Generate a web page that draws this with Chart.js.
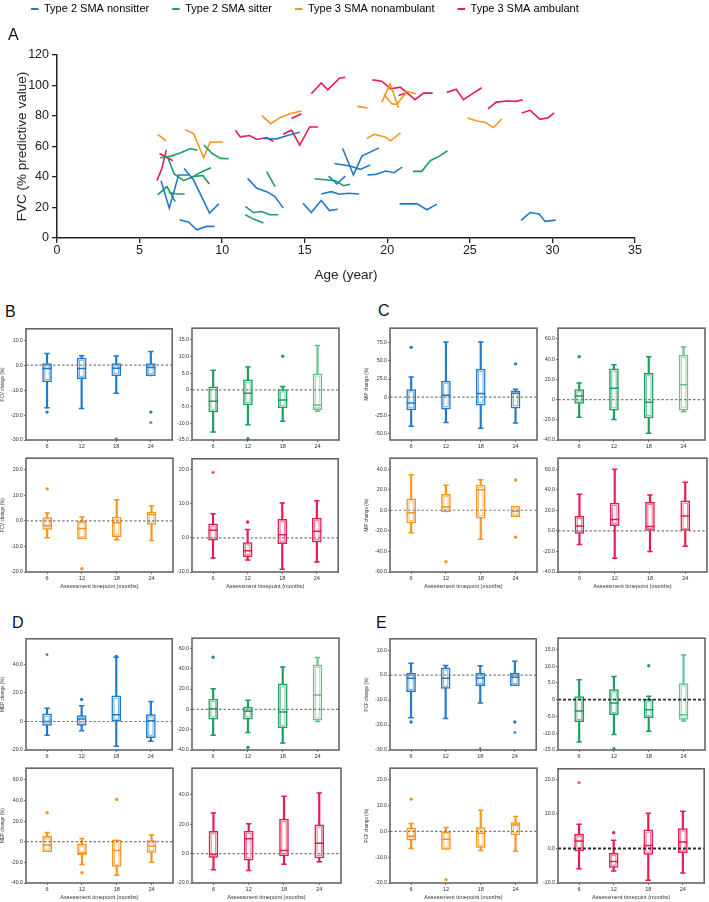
<!DOCTYPE html>
<html>
<head>
<meta charset="utf-8">
<title>SMA respiratory function over time</title>
<script src="https://cdn.jsdelivr.net/npm/chart.js@4.4.1/dist/chart.umd.min.js"></script>
<style>
  body { margin: 0; background: #fff; }
  #page { position: relative; width: 709px; height: 902px; overflow: hidden; font-family: "Liberation Sans", Arial, sans-serif; }
  #page canvas { position: absolute; }
  .tag { position: absolute; font-size: 16px; line-height: 1; color: #111; }
</style>
</head>
<body>
<div id="page">
  <canvas id="fvc-age" width="709" height="285" style="left:0;top:0"></canvas>
  <div class="tag" style="left:5px;top:304px">B</div>
  <div class="tag" style="left:378px;top:303px">C</div>
  <div class="tag" style="left:12px;top:615px">D</div>
  <div class="tag" style="left:376px;top:615px">E</div>
</div>
<script>
"use strict";

// Panel A: each patient is one track of [age (year), FVC (% predictive value)]
var nonsitterTracks = [
    [[6.3, 37.6], [6.8, 19.6], [7.36, 41.3], [7.97, 41.3]],
    [[7.7, 45.6], [8.27, 38], [9.24, 16.3], [9.8, 22.4]],
    [[7.42, 12], [7.97, 10.4], [8.47, 5.4], [9.04, 7.6], [9.54, 7.6]],
    [[11.54, 39.1], [12.1, 32.6], [12.7, 30.4], [13.2, 27.2], [13.7, 19.6]],
    [[12.5, 65.2], [13.3, 65], [14.0, 67.4], [14.7, 69.3]],
    [[14.9, 22.8], [15.4, 16.7], [16.0, 24.6], [16.5, 18], [17.0, 18.9]],
    [[16.0, 28.9], [16.6, 30.4], [17.1, 28.7], [17.65, 29.3], [18.3, 28.9]],
    [[16.45, 40.6], [16.95, 35.4], [17.45, 40.6]],
    [[16.8, 48.9], [17.75, 47.2], [18.36, 45], [18.96, 47.8]],
    [[17.3, 58.7], [17.95, 41.3], [18.46, 53.7], [19.5, 59.1]],
    [[18.8, 41.3], [19.3, 41.7], [19.9, 43.9], [20.4, 42.8], [20.9, 46.5]],
    [[20.74, 22.4], [21.8, 22.4], [22.4, 18.5], [23.0, 22.2]],
    [[28.1, 11.5], [28.65, 16.7], [29.2, 15.7], [29.55, 10.9], [30.2, 11.7]],
];

var sitterTracks = [
    [[6.25, 52.6], [6.9, 53.7], [7.5, 55.9], [8.07, 58.7], [8.5, 57.6]],
    [[8.9, 60.9], [9.4, 55.4], [9.9, 52.2], [10.4, 52]],
    [[6.7, 53], [7.1, 42], [7.67, 37.6], [8.23, 40.2], [8.83, 41], [9.22, 35.4]],
    [[6.1, 28.3], [6.66, 33.7], [7.16, 23.9]],
    [[6.76, 29.8], [7.26, 28.9], [7.73, 28.9]],
    [[8.23, 40.2], [8.78, 43.5], [9.32, 46.1]],
    [[11.4, 20.7], [11.9, 16.7], [12.4, 17.4], [12.9, 15.2], [13.4, 15.2]],
    [[11.4, 15.2], [11.9, 12.4], [12.5, 9.8]],
    [[12.7, 43.5], [13.2, 33.7]],
    [[15.6, 38.9], [16.85, 37.6], [17.35, 34.3], [17.75, 35.2]],
    [[21.55, 43.7], [22.09, 43.7], [22.6, 50.7], [23.16, 53.7], [23.64, 57.2]],
];

var nonambulantTracks = [
    [[6.1, 68], [6.6, 63.7]],
    [[7.77, 71], [8.27, 68.5], [8.88, 52.6], [9.27, 62.8], [10.05, 63]],
    [[12.4, 80.2], [12.95, 75], [13.5, 78.9], [14.1, 81.5], [14.8, 83.3]],
    [[18.2, 86.3], [18.8, 85.2]],
    [[18.76, 65.2], [19.2, 68], [19.87, 66.3], [20.2, 63.7], [20.8, 68.9]],
    [[19.67, 89.1], [20.17, 101.1], [20.68, 85.4]],
    [[19.8, 94.1], [20.27, 88], [20.58, 87.6], [21.18, 96.1], [21.74, 94.6]],
    [[24.85, 78.7], [25.42, 76.7], [25.92, 75.9], [26.43, 72.4], [26.93, 78]],
];

var ambulantTracks = [
    [[6.05, 37.6], [6.35, 45.6], [6.62, 57.6]],
    [[6.21, 55.4], [6.66, 52.8], [7.02, 50.7]],
    [[10.8, 70.7], [11.1, 66.3], [11.66, 67.2], [12.1, 64.6], [12.7, 65.9], [13.1, 63.3]],
    [[14.2, 78.3], [14.8, 81.5]],
    [[13.7, 68], [14.2, 70.7], [14.7, 60.9], [15.3, 72.8], [15.8, 72.8]],
    [[15.4, 94.6], [16.0, 101.7], [16.4, 97.2], [17.1, 104.8], [17.45, 105.4]],
    [[19.1, 103.7], [19.67, 102.8], [20.21, 97.8], [20.78, 98.9], [21.22, 95], [21.68, 90.7], [22.19, 95], [22.75, 95]],
    [[20.68, 93.5], [21.22, 95.4]],
    [[23.6, 95.4], [24.17, 97.6], [24.61, 90.7], [25.21, 95], [25.72, 98.5]],
    [[26.1, 84.6], [26.6, 89.1], [27.23, 89.8], [27.8, 89.6], [28.2, 90.7]],
    [[28.14, 82], [28.65, 83.7], [29.25, 77.8], [29.75, 78.9], [30.1, 82]],
];

var groupNames = ["Type 2 SMA nonsitter", "Type 2 SMA sitter", "Type 3 SMA nonambulant", "Type 3 SMA ambulant"];

// Panels B-E: change from baseline, one [min, q1, median, q3, max] per timepoint
var timepoints = [6, 12, 18, 24];

// outliers: [timepoint, value, "o" circle | "*" extreme]
var fvcNonsitter = [[-17.1, -6.7, -1.3, 0.7, 4.7], [-17.4, -5.4, -1.3, 2.9, 3.8], [-11.2, -4.3, -1.2, 0.7, 3.7], [-4.3, -4.3, -0.9, 0.7, 5.5]];
var fvcNonsitterOut = [[6, -18.8, "o"], [18, -29.5, "*"], [24, -18.8, "o"], [24, -23, "*"]];
var fvcSitter = [[-12.6, -6.6, -3.4, 0.9, 5.9], [-10.4, -4.5, -1.0, 3.0, 6.9], [-9.4, -5.4, -3.0, 0.1, 1.0], [-6.4, -5.9, -4.5, 4.8, 13.3]];
var fvcSitterOut = [[12, -14.6, "o"], [18, 10.1, "o"]];
var fvcNonambulant = [[-6.6, -3.4, -1.9, 1.3, 3.1], [-7.0, -7.0, -3.0, 0, 1.5], [-7.4, -6.2, -0.7, 1.5, 8.2], [-7.7, -1.4, 2.5, 3.4, 5.8]];
var fvcNonambulantOut = [[6, 12.5, "o"], [12, -18.7, "o"]];
var fvcAmbulant = [[-5.9, -0.7, 2.2, 4.1, 7.0], [-6.5, -5.5, -3.8, -1.4, 2.4], [-9.2, -1.7, 0.9, 5.4, 10.2], [-7.1, -1.2, 1.9, 5.8, 10.8]];
var fvcAmbulantOut = [[6, 19.1, "*"], [12, 4.6, "o"]];

var mipNonsitter = [[-40, -17.7, -8.2, 10.5, 27.7], [-35, -16.4, 2.7, 22.3, 75.9], [-42.7, -10.9, 5, 38.6, 75.9], [-35.5, -15, 5.5, 8.6, 10.9]];
var mipNonsitterOut = [[6, 68.6, "o"], [24, 45.9, "o"]];
var mipSitter = [[-17.5, -3.9, 3.6, 10, 16.5], [-19.7, -10.4, 11.3, 30.4, 34.6], [-33.3, -18.1, -2.6, 25.9, 42.4], [-12, -10.4, 14.6, 44, 52.1]];
var mipSitterOut = [[6, 42.4, "o"]];
var mipNonambulant = [[-21.8, -12.3, -2.5, 11.1, 34.5], [-1.6, -1.6, 3.2, 15.5, 24.4], [-28.2, -7.6, 19.9, 24.4, 29.7], [-6.3, -6.3, -1, 3.8, 3.8]];
var mipNonambulantOut = [[12, -50, "o"], [24, 29.4, "o"], [24, -26.3, "o"]];
var mipAmbulant = [[-13.3, -2.5, 4.8, 14.3, 35.6], [-26.7, 5.1, 11.1, 27, 60], [-20, 0, 4.4, 27.9, 34.9], [-14.9, 0, 14.6, 29.2, 47.3]];
var mipAmbulantOut = [];

var mepNonsitter = [[-9.7, -2.8, 0, 5.3, 9.2], [-6.5, -2.8, 1.8, 4.2, 11.1], [-17.3, 0, 4.8, 18, 45], [-13.9, -11.3, 0.5, 4.8, 14.1]];
var mepNonsitterOut = [[6, 46.9, "*"], [12, 15.5, "o"], [18, 45.7, "o"]];
var mepSitter = [[-25.5, -9.7, 0.6, 10, 20.3], [-22.9, -9.7, -1.9, 2.3, 9], [-33.2, -18.4, -2.6, 25.2, 41.6], [-11.9, -10.6, 14.2, 43.5, 51]];
var mepSitterOut = [[6, 51.3, "o"], [12, -37.4, "o"]];
var mepNonambulant = [[-9.6, -9.6, -3.2, 5.1, 8.9], [-22, -12.5, -10.9, -2.2, 3.2], [-32.6, -24, -8.6, 1.9, 1.9], [-19.8, -10.5, -4.2, 1, 6.7]];
var mepNonambulantOut = [[6, 28.1, "o"], [12, -30, "o"], [18, 40.9, "o"]];
var mepAmbulant = [[-11, -2.7, -0.4, 15.1, 27.6], [-11.5, -4.5, 10.1, 15.3, 20.2], [-7.2, -1.6, 2, 23.4, 38.9], [-5.6, -2.9, 7, 19.6, 41.1]];
var mepAmbulantOut = [];

// PCF boxes in the figure repeat the FVC values
var pcfNonsitter = fvcNonsitter, pcfNonsitterOut = fvcNonsitterOut;
var pcfSitter = fvcSitter, pcfSitterOut = fvcSitterOut;
var pcfNonambulant = fvcNonambulant, pcfNonambulantOut = fvcNonambulantOut;
var pcfAmbulant = fvcAmbulant, pcfAmbulantOut = fvcAmbulantOut;

var BLUE = "#2179c9";
var GREEN = "#1a9f5f";
var GREEN_LIGHT = "#62c291";
var ORANGE = "#f7951d";
var RED = "#e91a4f";
var groupColors = [BLUE, GREEN, ORANGE, RED];
var FONT = "'Liberation Sans', Arial, sans-serif";

Chart.defaults.font.family = FONT;

// ---------- panel A ----------
var trackSets = [];
[nonsitterTracks, sitterTracks, nonambulantTracks, ambulantTracks].forEach(function (tracks, g) {
    tracks.forEach(function (track) {
        trackSets.push({
            data: track.map(function (p) { return { x: p[0], y: p[1] }; }),
            borderColor: groupColors[g],
            borderWidth: 1.6,
            pointRadius: 0,
            fill: false,
            tension: 0,
        });
    });
});

new Chart(document.getElementById("fvc-age"), {
    type: "line",
    data: { datasets: trackSets },
    options: {
        responsive: false,
        animation: false,
        events: [],
        layout: { padding: { top: -19.5, left: 8, right: 74, bottom: 0 } },
        scales: {
            x: {
                type: "linear",
                min: 0,
                max: 35,
                ticks: { stepSize: 5, padding: 0, color: "#222", font: { size: 12.5 } },
                grid: { drawOnChartArea: false, tickLength: 5, color: "#222", lineWidth: 1.3 },
                border: { color: "#222", width: 1.5 },
                title: { display: true, text: "Age (year)", color: "#222", font: { size: 13.5 }, padding: { top: 0, bottom: 2 } },
                afterFit: function (axis) { axis.height = 47; },
            },
            y: {
                min: 0,
                max: 120,
                ticks: { stepSize: 20, padding: 3, color: "#222", font: { size: 12.5 } },
                grid: { drawOnChartArea: false, tickLength: 5, color: "#222", lineWidth: 1.3 },
                border: { color: "#222", width: 1.5 },
                title: { display: true, text: "FVC (% predictive value)", color: "#222", font: { size: 13.5 }, padding: { top: 6, bottom: 0 } },
                afterFit: function (axis) { axis.width = 49; },
            },
        },
        plugins: {
            legend: {
                align: "start",
                labels: {
                    boxWidth: 7.5,
                    boxHeight: 2,
                    padding: 23,
                    color: "#222",
                    font: { size: 11 },
                    generateLabels: function () {
                        return groupNames.map(function (name, i) {
                            return { text: name, fillStyle: groupColors[i], strokeStyle: groupColors[i], lineWidth: 0, hidden: false };
                        });
                    },
                },
            },
            title: {
                display: true,
                text: "A",
                align: "start",
                weight: 500,
                color: "#111",
                font: { size: 16, weight: "normal" },
                padding: { top: 1.4, bottom: 9.9 },
            },
            tooltip: { enabled: false },
        },
    },
});

// ---------- panels B-E ----------
function boxColor(spec, i) {
    return spec.fadeLast && i === timepoints.length - 1 ? GREEN_LIGHT : spec.color;
}

function boxDetails(spec) {
    return {
        id: "boxDetails",
        afterDatasetsDraw: function (chart) {
            var ctx = chart.ctx;
            var xs = chart.scales.x;
            var ys = chart.scales.y;
            var area = chart.chartArea;
            ctx.save();
            spec.stats.forEach(function (s, i) {
                var px = xs.getPixelForValue(timepoints[i]);
                var yMin = ys.getPixelForValue(s[0]);
                var yQ1 = ys.getPixelForValue(s[1]);
                var yMed = ys.getPixelForValue(s[2]);
                var yQ3 = ys.getPixelForValue(s[3]);
                var yMax = ys.getPixelForValue(s[4]);
                var col = boxColor(spec, i);
                ctx.strokeStyle = col;
                ctx.lineWidth = 1.5;
                ctx.beginPath();
                if (s[0] < s[1]) { ctx.moveTo(px - 2.7, yMin); ctx.lineTo(px + 2.7, yMin); }
                if (s[4] > s[3]) { ctx.moveTo(px - 2.7, yMax); ctx.lineTo(px + 2.7, yMax); }
                ctx.moveTo(px - 4.5, yMed);
                ctx.lineTo(px + 4.5, yMed);
                ctx.stroke();
                if (yQ1 - yQ3 > 5) {
                    ctx.globalAlpha = 0.6;
                    ctx.lineWidth = 1;
                    ctx.strokeRect(px - 2.2, yQ3 + 2.3, 4.4, yQ1 - yQ3 - 4.6);
                    ctx.globalAlpha = 1;
                }
            });
            var y0 = ys.getPixelForValue(0);
            ctx.setLineDash(spec.strongZero ? [3, 2] : [2.5, 2]);
            ctx.strokeStyle = spec.strongZero ? "#2a2a2a" : "#7d7d7d";
            ctx.lineWidth = spec.strongZero ? 1.8 : 1.2;
            ctx.beginPath();
            ctx.moveTo(area.left, y0);
            ctx.lineTo(area.right, y0);
            ctx.stroke();
            ctx.setLineDash([]);
            ctx.strokeStyle = "#666";
            ctx.lineWidth = 1.6;
            ctx.strokeRect(area.left, area.top, area.right - area.left, area.bottom - area.top);
            ctx.restore();
        },
    };
}

function drawBoxChart(spec) {
    var yW = spec.yTitle ? 26 : 16;
    var xH = spec.bottomRow ? 19 : 13;
    var canvas = document.createElement("canvas");
    canvas.width = yW + 149 + 2;
    canvas.height = 3 + spec.h + xH;
    canvas.style.left = spec.x - yW + "px";
    canvas.style.top = spec.y - 3 + "px";
    document.getElementById("page").appendChild(canvas);

    var circles = spec.out.filter(function (o) { return o[2] === "o"; });
    var stars = spec.out.filter(function (o) { return o[2] === "*"; });

    new Chart(canvas, {
        type: "bar",
        data: {
            datasets: [
                {
                    data: spec.stats.map(function (s, i) { return { x: timepoints[i], y: [s[0], s[4]] }; }),
                    backgroundColor: spec.stats.map(function (s, i) { return boxColor(spec, i); }),
                    barThickness: 1.5,
                    grouped: false,
                    order: 3,
                },
                {
                    data: spec.stats.map(function (s, i) { return { x: timepoints[i], y: [s[1], s[3]] }; }),
                    backgroundColor: "#fff",
                    borderColor: spec.stats.map(function (s, i) { return boxColor(spec, i); }),
                    borderWidth: 1.5,
                    borderSkipped: false,
                    barThickness: 9,
                    grouped: false,
                    order: 2,
                },
                {
                    type: "scatter",
                    data: circles.map(function (o) { return { x: o[0], y: o[1] }; }),
                    backgroundColor: spec.color,
                    borderWidth: 0,
                    pointRadius: 1.7,
                    order: 1,
                },
                {
                    type: "scatter",
                    data: stars.map(function (o) { return { x: o[0], y: o[1] }; }),
                    pointStyle: "star",
                    borderColor: spec.color,
                    borderWidth: 0.8,
                    pointRadius: 1.5,
                    order: 1,
                },
            ],
        },
        options: {
            responsive: false,
            animation: false,
            events: [],
            layout: { padding: { top: 3, right: 2, left: 0, bottom: 0 } },
            scales: {
                x: {
                    type: "linear",
                    min: 2.35,
                    max: 27.7,
                    offset: false,
                    afterBuildTicks: function (axis) {
                        axis.ticks = timepoints.map(function (t) { return { value: t }; });
                    },
                    ticks: { padding: 1, color: "#333", font: { size: 5.6 } },
                    grid: { offset: false, drawOnChartArea: false, tickLength: 2, color: "#555", lineWidth: 0.8 },
                    border: { display: false },
                    title: {
                        display: !!spec.bottomRow,
                        text: "Assessment timepoint (months)",
                        color: "#333",
                        font: { size: 5.6 },
                        padding: { top: 0, bottom: 1 },
                    },
                    afterFit: function (axis) { axis.height = xH; },
                },
                y: {
                    min: spec.yMin,
                    max: spec.yMax,
                    afterBuildTicks: function (axis) {
                        var vals = [];
                        for (var v = Math.ceil(spec.yMin / spec.step) * spec.step; v <= spec.yMax + 1e-9; v += spec.step) {
                            vals.push({ value: v });
                        }
                        axis.ticks = vals;
                    },
                    ticks: {
                        padding: 1,
                        color: "#333",
                        font: { size: 5.3 },
                        callback: function (v) { return v === 0 ? spec.zero : v.toFixed(1); },
                    },
                    grid: { drawOnChartArea: false, tickLength: 2, color: "#555", lineWidth: 0.8 },
                    border: { display: false },
                    title: {
                        display: !!spec.yTitle,
                        text: spec.yTitle || "",
                        color: "#333",
                        font: { size: 4.6 },
                        padding: { top: 0, bottom: 0 },
                    },
                    afterFit: function (axis) { axis.width = yW; },
                },
            },
            plugins: { legend: { display: false }, tooltip: { enabled: false } },
        },
        plugins: [boxDetails(spec)],
    });
}

var boxCharts = [
    // B: FVC
    { stats: fvcNonsitter, out: fvcNonsitterOut, color: BLUE, yMin: -30, yMax: 14.6, step: 10, zero: "0.0", yTitle: "FCV change (%)", x: 26, y: 327, h: 113 },
    { stats: fvcSitter, out: fvcSitterOut, color: GREEN, fadeLast: true, yMin: -15, yMax: 18.5, step: 5, zero: "0", x: 192, y: 327, h: 113 },
    { stats: fvcNonambulant, out: fvcNonambulantOut, color: ORANGE, yMin: -20, yMax: 24.5, step: 10, zero: "0.0", yTitle: "FCV change (%)", x: 26, y: 457, h: 115, bottomRow: true },
    { stats: fvcAmbulant, out: fvcAmbulantOut, color: RED, yMin: -10, yMax: 23.1, step: 10, zero: "0.0", x: 192, y: 457, h: 115, bottomRow: true },
    // C: MIP
    { stats: mipNonsitter, out: mipNonsitterOut, color: BLUE, yMin: -59, yMax: 95, step: 25, zero: "0", yTitle: "MIP change (%)", x: 390, y: 327, h: 113 },
    { stats: mipSitter, out: mipSitterOut, color: GREEN, fadeLast: true, yMin: -40, yMax: 70.7, step: 20, zero: "0", x: 558, y: 327, h: 113 },
    { stats: mipNonambulant, out: mipNonambulantOut, color: ORANGE, yMin: -60, yMax: 50.6, step: 20, zero: "0.0", yTitle: "MIP change (%)", x: 390, y: 457, h: 115, bottomRow: true },
    { stats: mipAmbulant, out: mipAmbulantOut, color: RED, yMin: -40, yMax: 70.8, step: 20, zero: "0.0", x: 558, y: 457, h: 115, bottomRow: true },
    // D: MEP
    { stats: mepNonsitter, out: mepNonsitterOut, color: BLUE, yMin: -20, yMax: 58, step: 20, zero: "0", yTitle: "MEP change (%)", x: 26, y: 637, h: 113 },
    { stats: mepSitter, out: mepSitterOut, color: GREEN, fadeLast: true, yMin: -40, yMax: 70, step: 20, zero: "0", x: 192, y: 637, h: 113 },
    { stats: mepNonambulant, out: mepNonambulantOut, color: ORANGE, yMin: -40, yMax: 71.2, step: 20, zero: "0", yTitle: "MEP change (%)", x: 26, y: 767, h: 116, bottomRow: true },
    { stats: mepAmbulant, out: mepAmbulantOut, color: RED, yMin: -20, yMax: 58, step: 20, zero: "0.0", x: 192, y: 767, h: 116, bottomRow: true },
    // E: PCF
    { stats: pcfNonsitter, out: pcfNonsitterOut, color: BLUE, yMin: -30, yMax: 14.5, step: 10, zero: "0.0", yTitle: "PCF change (%)", x: 390, y: 637, h: 113 },
    { stats: pcfSitter, out: pcfSitterOut, color: GREEN, fadeLast: true, strongZero: true, yMin: -15, yMax: 18.3, step: 5, zero: "0", x: 558, y: 637, h: 113 },
    { stats: pcfNonambulant, out: pcfNonambulantOut, color: ORANGE, yMin: -20, yMax: 24.5, step: 10, zero: "0.0", yTitle: "PCF change (%)", x: 390, y: 767, h: 116, bottomRow: true },
    { stats: pcfAmbulant, out: pcfAmbulantOut, color: RED, strongZero: true, yMin: -10, yMax: 23.1, step: 10, zero: "0.0", x: 558, y: 767, h: 116, bottomRow: true },
];

boxCharts.forEach(drawBoxChart);
</script>
</body>
</html>
